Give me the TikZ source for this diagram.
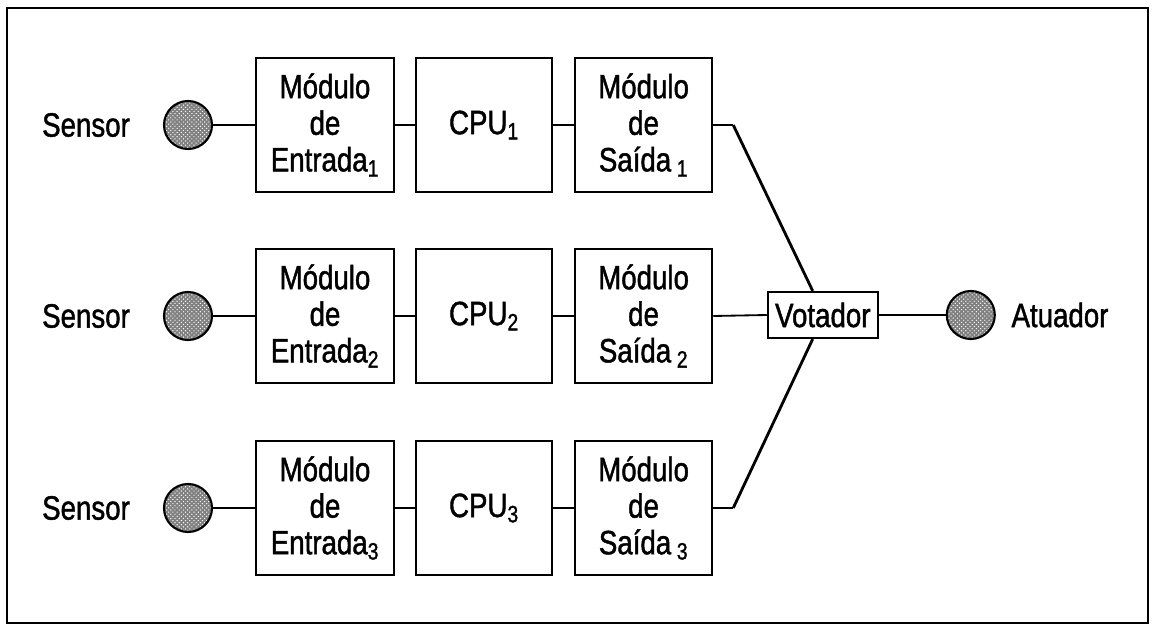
\documentclass[tikz,border=0pt]{standalone}
\usepackage{fontspec}
\setmainfont[FakeStretch=0.82, FakeBold=1.3]{Liberation Sans}
\usetikzlibrary{calc}
\usetikzlibrary{patterns}

\begin{document}
\begin{tikzpicture}[
        thick,
        font=\fontsize{24}{26}\selectfont,
        bloco/.style={draw, line width=1.5pt, minimum width=3.43cm,
                      minimum height=3.37cm, inner sep=0pt, align=center},
        bola/.style={circle, draw, line width=1.5pt, minimum size=1.2cm,
                     inner sep=0pt, preaction={fill=black!50},
                     pattern=crosshatch dots, pattern color=white},
        fio/.style={line width=1.3pt},
        perna/.style={line width=2pt},
    ]

    \useasboundingbox (0,0) rectangle (28.85cm,-15.65cm);
    \draw[line width=1.5pt] (0.175cm,-0.2cm) rectangle (28.7cm,-15.575cm);

    % votador e atuador
    \node[draw, line width=1.5pt, minimum width=2.75cm, minimum height=1.15cm,
          inner sep=1pt] (vot) at (20.57cm, -7.875cm) {Votador};
    \node[bola] (atu) at (24.27cm, -7.875cm) {};
    \node (atutxt) at (26.5cm, -7.875cm) {Atuador};
    \draw[fio] (vot.east) -- (atu.west);

    % as tres linhas sensor -> entrada -> cpu -> saida
    \foreach \i/\y in {1/-3.125cm, 2/-7.9cm, 3/-12.7cm} {
        \node (sentxt\i) at (2.15cm, \y) {Sensor};
        \node[bola] (sen\i) at (4.7cm, \y) {};
        \node[bloco] (ent\i) at (8.125cm, \y) {M\'odulo\\de\\Entrada\textsubscript{\i}};
        \node[bloco, minimum width=3.4cm] (cpu\i) at (12.1cm, \y) {CPU\textsubscript{\i}};
        \node[bloco] (sai\i) at (16.09cm, \y) {M\'odulo\\de\\Sa\'ida\,\textsubscript{\i}};
        \draw[fio] (sen\i.east) -- (ent\i.west);
        \draw[fio] (ent\i.east) -- (cpu\i.west);
        \draw[fio] (cpu\i.east) -- (sai\i.west);
    }

    \coordinate (dob1) at ($(sai1.east)+(0.5cm,0)$);
    \coordinate (dob3) at ($(sai3.east)+(0.5cm,0)$);
    \draw[fio] (sai1.east) -- (dob1);
    \draw[fio] (sai3.east) -- (dob3);
    \draw[perna] (dob1) -- ($(vot.north west)!0.41!(vot.north east)$);
    \draw[perna] (dob3) -- ($(vot.south west)!0.41!(vot.south east)$);
    \draw[fio] (sai2.east) -- (vot.west);

\end{tikzpicture}
\end{document}
